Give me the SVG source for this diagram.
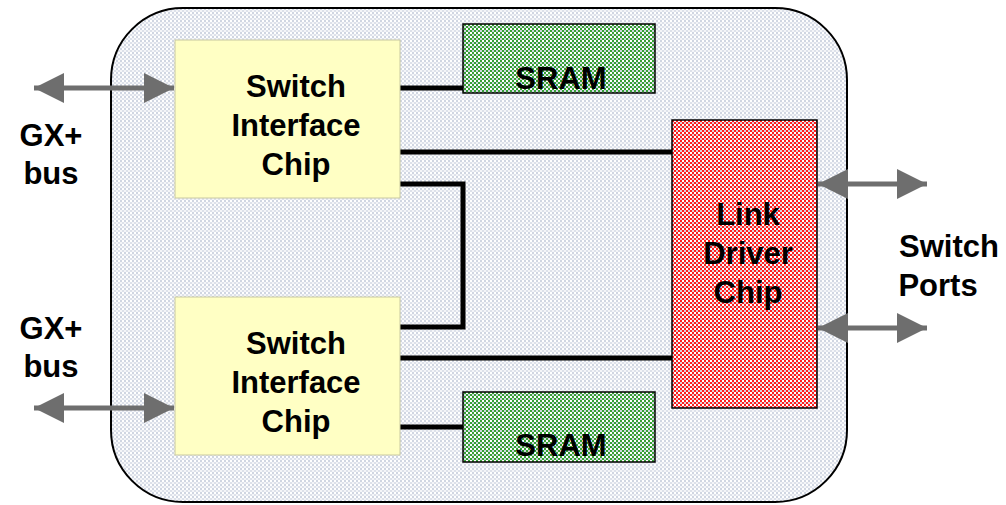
<svg xmlns="http://www.w3.org/2000/svg" width="1006" height="505" viewBox="0 0 1006 505">
<defs>
<pattern id="pGray" width="4" height="4" patternUnits="userSpaceOnUse">
<rect width="4" height="4" fill="#f4f5f8"/>
<rect width="2" height="2" fill="#d0d6e2"/>
<rect x="2" y="2" width="2" height="2" fill="#dde1ea"/>
<rect x="2" y="0" width="2" height="2" fill="#ffffff"/>
</pattern>
<pattern id="pGreen" width="4" height="4" patternUnits="userSpaceOnUse">
<rect width="4" height="4" fill="#ffffff"/>
<rect width="2" height="2" fill="#35a035"/>
<rect x="2" y="2" width="2" height="2" fill="#35a035"/>
<rect x="0" y="2" width="2" height="2" fill="#d0d6e0"/>
</pattern>
<pattern id="pRed" width="4" height="4" patternUnits="userSpaceOnUse">
<rect width="4" height="4" fill="#ffffff"/>
<rect width="2" height="2" fill="#ff1e1e"/>
<rect x="2" y="2" width="2" height="2" fill="#ff1e1e"/>
<rect x="0" y="2" width="2" height="2" fill="#dcd2dc"/>
</pattern>
<marker id="ah" viewBox="0 0 10 10" refX="10" refY="5" markerWidth="6" markerHeight="6" orient="auto-start-reverse" markerUnits="strokeWidth">
<path d="M0,0 L10,5 L0,10 z" fill="#6e6e6e"/>
</marker>
</defs>
<style>
.t{font-family:"Liberation Sans",Arial,sans-serif;font-weight:bold;font-size:31px;fill:#000;text-anchor:middle}
.chip{fill:#ffffc4;stroke:#c8c8a0;stroke-width:1}
.wire{stroke:#000;stroke-width:5;fill:none}
.arr{stroke:#6e6e6e;stroke-width:5;fill:none;marker-start:url(#ah);marker-end:url(#ah)}
</style>
<g id="board">
<rect x="111" y="8" width="736" height="494" rx="72" ry="72" fill="url(#pGray)" stroke="#000" stroke-width="2"/>
</g>
<g id="connectors">
<polyline class="wire" points="400,88 463,88"/>
<polyline class="wire" points="400,152 672,152"/>
<polyline class="wire" points="400,184 463,184 463,327 400,327"/>
<polyline class="wire" points="400,358 672,358"/>
<polyline class="wire" points="400,427 463,427"/>
<line class="arr" x1="34" y1="88" x2="174" y2="88"/>
<line class="arr" x1="34" y1="408" x2="174" y2="408"/>
<line class="arr" x1="818" y1="184" x2="927" y2="184"/>
<line class="arr" x1="818" y1="328" x2="927" y2="328"/>
</g>
<g id="sic1">
<rect class="chip" x="175" y="40" width="225" height="158"/>
<text class="t" x="296" y="97">Switch</text>
<text class="t" x="296" y="136">Interface</text>
<text class="t" x="296" y="175">Chip</text>
</g>
<g id="sic2">
<rect class="chip" x="175" y="297" width="225" height="158"/>
<text class="t" x="296" y="354">Switch</text>
<text class="t" x="296" y="393">Interface</text>
<text class="t" x="296" y="432">Chip</text>
</g>
<g id="sram1">
<rect x="463" y="24" width="192" height="69" fill="url(#pGreen)" stroke="#000" stroke-width="1.5"/>
<text class="t" x="561" y="89">SRAM</text>
</g>
<g id="sram2">
<rect x="463" y="392" width="192" height="70" fill="url(#pGreen)" stroke="#000" stroke-width="1.5"/>
<text class="t" x="561" y="456">SRAM</text>
</g>
<g id="ldc">
<rect x="672" y="120" width="145" height="288" fill="url(#pRed)" stroke="#000" stroke-width="1.5"/>
<text class="t" x="748" y="225">Link</text>
<text class="t" x="748" y="264">Driver</text>
<text class="t" x="748" y="303">Chip</text>
</g>
<g id="labels">
<text class="t" x="51" y="146">GX+</text>
<text class="t" x="51" y="184">bus</text>
<text class="t" x="51" y="339">GX+</text>
<text class="t" x="51" y="377">bus</text>
<text class="t" x="949" y="257">Switch</text>
<text class="t" x="938" y="296">Ports</text>
</g>
</svg>
